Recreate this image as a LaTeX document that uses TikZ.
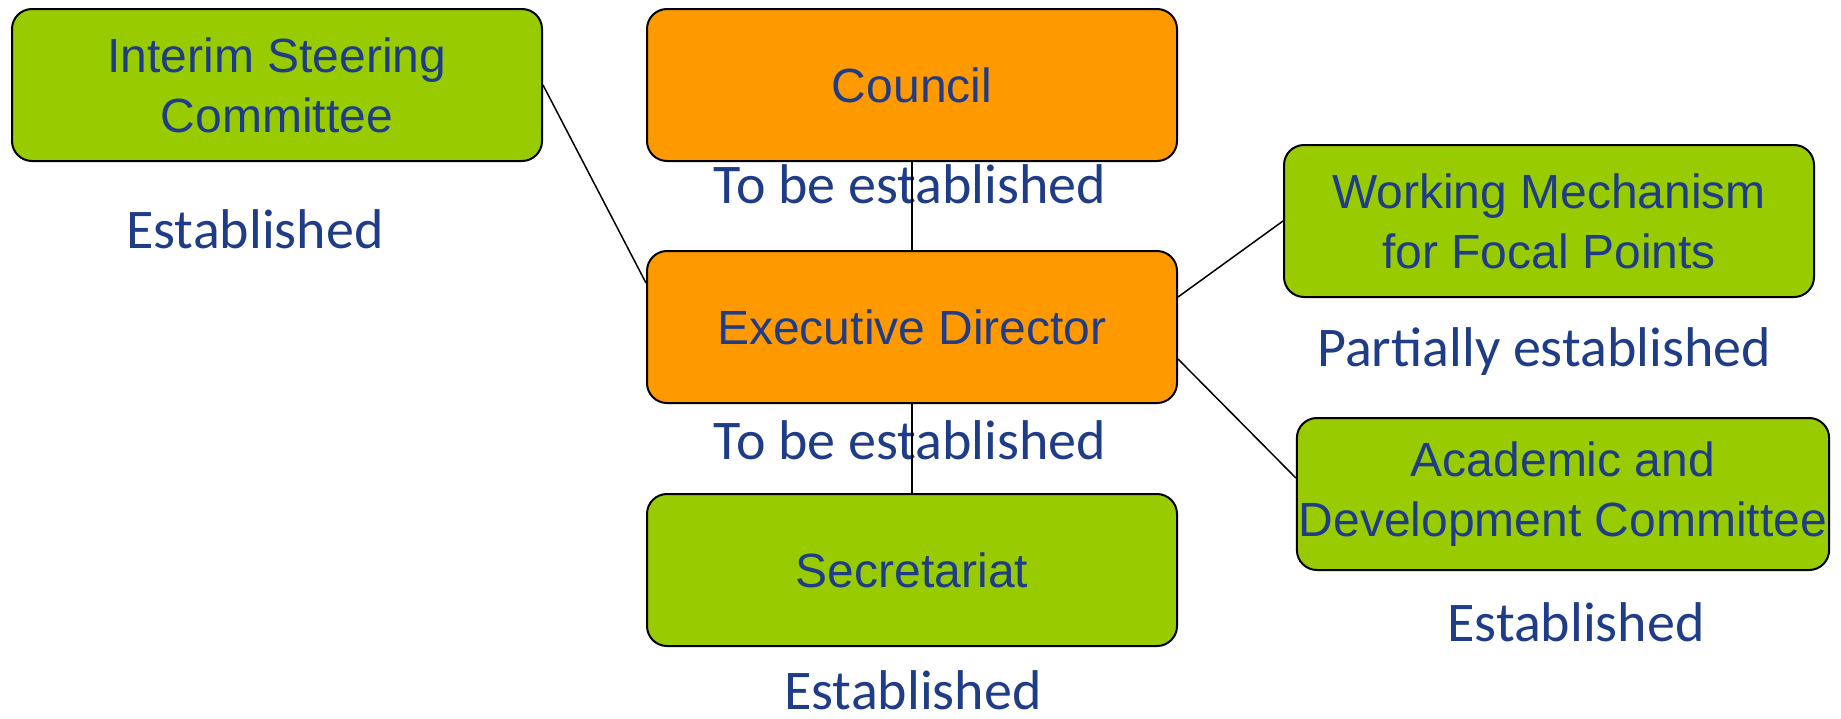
\documentclass[tikz,border=0pt]{standalone}
\usepackage{fontspec}
\setmainfont{Liberation Sans}
\newfontfamily\statusfont{Carlito}
\usepackage{tikz}
\definecolor{boxgreen}{HTML}{99CC00}
\definecolor{boxorange}{HTML}{FF9900}
\definecolor{textblue}{HTML}{1F3C88}

\begin{document}
\begin{tikzpicture}[x=0.5pt,y=-0.5pt]
    %
    % `unit' is the common box, `done' and `todo' give its fill.
    % `status' is used for the notes under the boxes.
    \tikzstyle{unit} = [draw=black,line width=1pt,rounded corners=10pt,minimum width=265pt,minimum height=76pt,inner xsep=1pt,align=center,text=textblue,font=\fontsize{24}{30}\selectfont]
    \tikzstyle{done} = [unit,fill=boxgreen]
    \tikzstyle{todo} = [unit,fill=boxorange]
    \tikzstyle{status} = [text=textblue,inner sep=1pt,font=\statusfont\fontsize{28}{34}\selectfont]
    \tikzstyle{link} = [line width=0.75pt]
    %
    \useasboundingbox (0,0) rectangle (1841,718);
    %
    % Left column
    \node[done] (isc) at (277,85) {Interim Steering\\Committee};
    \node[status] (isclab) at (255,229) {Established};
    %
    % Middle column
    \node[todo] (council) at (912,85) {Council};
    \node[status] (councillab) at (910,184) {To be established};
    \node[todo] (ed) at (912,327) {Executive Director};
    \node[status] (edlab) at (910,440) {To be established};
    \node[done] (sec) at (912,570) {Secretariat};
    \node[status] (seclab) at (913,690) {Established};
    %
    % Right column
    \node[done] (wm) at (1549,221) {Working Mechanism\\for Focal Points};
    \node[status] (wmlab) at (1544,352) {Partially established};
    \node[done] (adc) at (1563,494) {Academic and\\Development Committee};
    \node[status] (adclab) at (1576,622) {Established};
    %
    % Links
    \draw[link] (isc.east) -- ([yshift=22pt]ed.west);
    \draw[link] (council.south) -- (ed.north);
    \draw[link] (ed.south) -- (sec.north);
    \draw[link] ([yshift=15pt]ed.east) -- (wm.west);
    \draw[link] ([yshift=-16pt]ed.east) -- ([yshift=8pt]adc.west);
    %
\end{tikzpicture}
\end{document}
